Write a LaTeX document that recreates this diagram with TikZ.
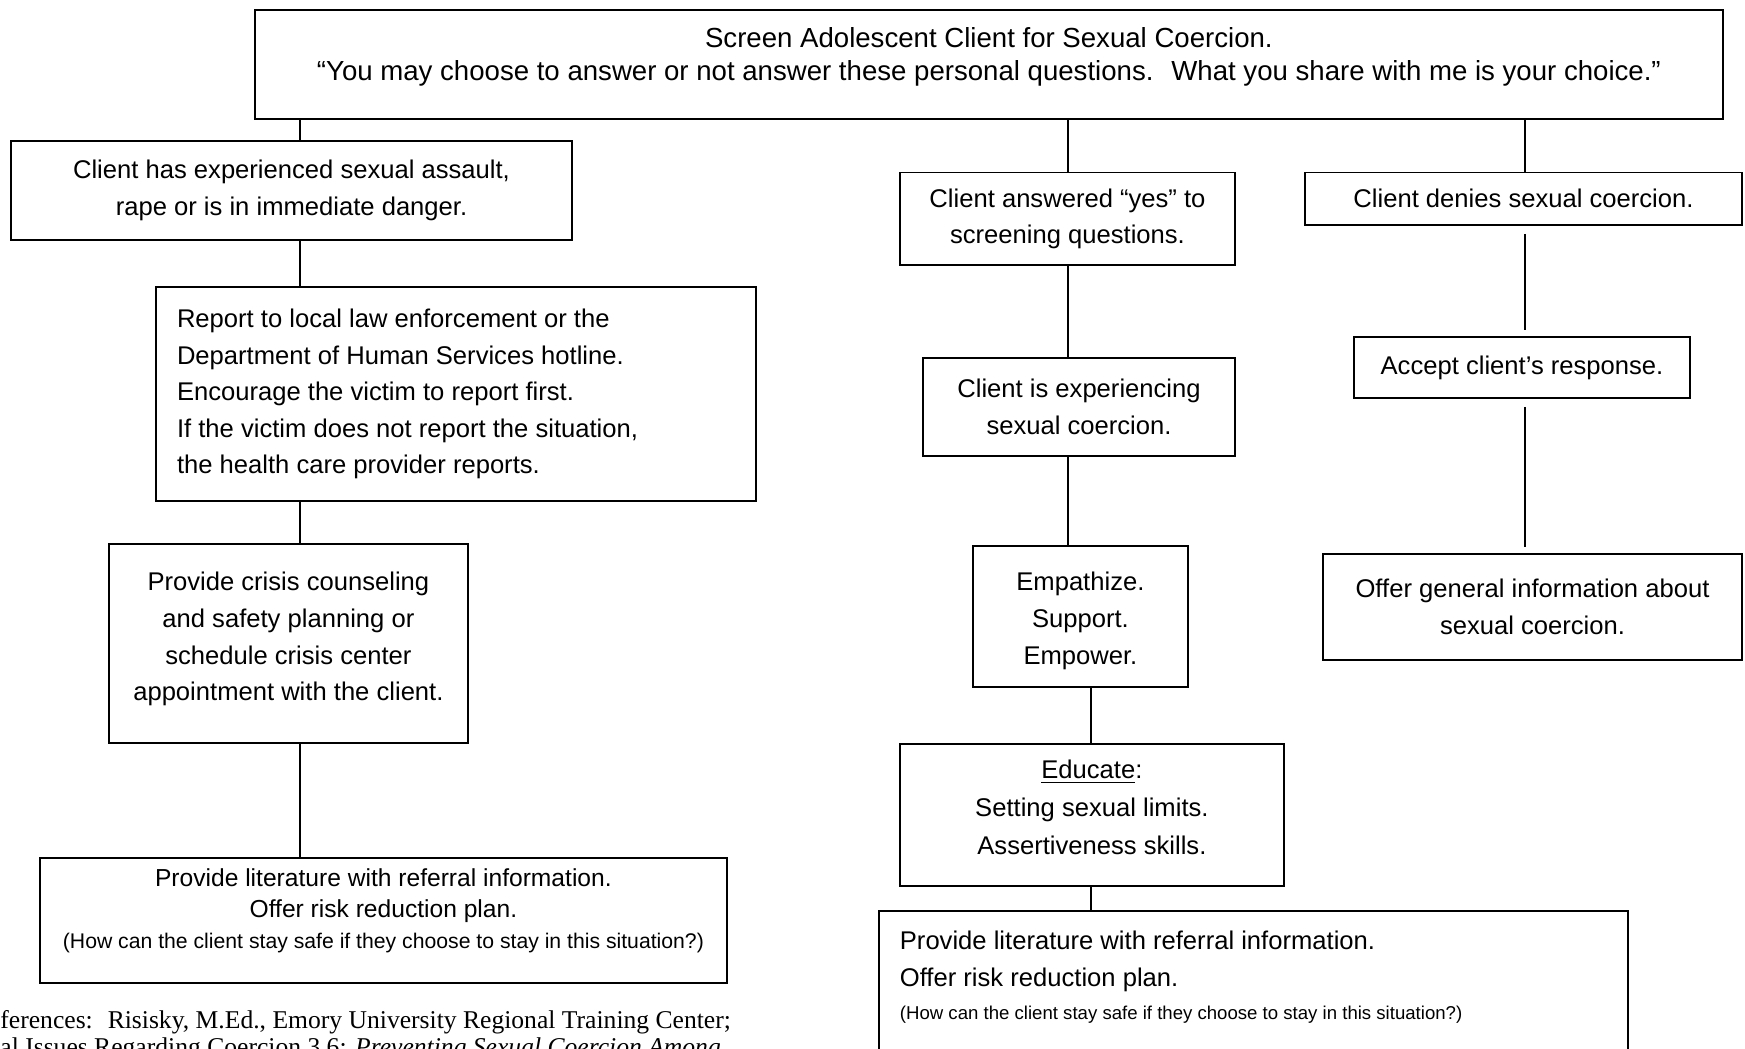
\documentclass[tikz,border=0pt]{standalone}
\usepackage{fontspec}
\setmainfont{Liberation Sans}
\newfontfamily\refserif{Liberation Serif}
\usetikzlibrary{positioning}
\newcommand{\asidefont}{\fontsize{10.6}{12}\selectfont}
\newcommand{\notefont}{\fontsize{9.3}{11}\selectfont}

\begin{document}
\begin{tikzpicture}[
  x=0.5pt, y=-0.5pt,
  font=\fontsize{12.8}{18.3}\selectfont,
  box/.style={draw, line width=.9pt, align=flush center, inner sep=0pt},
  padbox/.style={box, inner xsep=10.5pt, inner ysep=0pt},
  topbox/.style={box, anchor=north west},
  link/.style={draw, line width=.75pt},
  gap/.style={link, shorten <=4pt, shorten >=3pt},
  refline/.style={font=\refserif\fontsize{12.8}{14}\selectfont, anchor=base west, inner sep=0pt},
]
\useasboundingbox (0,0) rectangle (1745,1049);

% screening question
\node[topbox, text width=734pt, text height=18.75pt, text depth=35.75pt,
      font=\fontsize{13.8}{16.7}\selectfont] (screen) at (254,9)
  {Screen Adolescent Client for Sexual Coercion.\\
   “You may choose to answer or not answer these personal questions.~ What you share with me is your choice.”};

% left column
\node[box, minimum width=280.5pt, minimum height=49.5pt] (assault) at (291.5,190.5)
  {Client has experienced sexual assault,\\rape or is in immediate danger.};
\node[padbox, text width=279pt, align=flush left, minimum height=107pt] (report) at (456,394)
  {Report to local law enforcement or the\\
   Department of Human Services hotline.\\
   Encourage the victim to report first.\\
   If the victim does not report the situation,\\
   the health care provider reports.};
\node[topbox, text width=179.5pt, text height=23.5pt, text depth=76pt] (crisis) at (108,543)
  {Provide crisis counseling\\and safety planning or\\schedule crisis center\\appointment with the client.};
\node[padbox, anchor=north west, inner xsep=3pt, text width=337.5pt,
      text height=14.25pt, text depth=48.25pt, font=\fontsize{12.3}{15.5}\selectfont] (litleft) at (39,857)
  {Provide literature with referral information.\\
   Offer risk reduction plan.\\
   {\asidefont (How can the client stay safe if they choose to stay in this situation?)}};

% middle column
\node[box, minimum width=167.5pt, minimum height=46.25pt] (yes) at (1067.5,218.75)
  {Client answered “yes” to\\screening questions.};
\node[box, minimum width=156pt, minimum height=49pt] (coerced) at (1079,407)
  {Client is experiencing\\sexual coercion.};
\node[topbox, text width=107.5pt, text height=22.5pt, text depth=48pt] (empathize) at (972,545)
  {Empathize.\\Support.\\Empower.};
\node[topbox, text width=192pt, text height=17.5pt, text depth=53.5pt,
      font=\fontsize{12.8}{18.9}\selectfont] (educate) at (899,743)
  {\underline{Educate}:\\Setting sexual limits.\\Assertiveness skills.};
\node[padbox, anchor=north west, text width=353.5pt, align=flush left,
      text height=19.5pt, text depth=75.5pt] (litright) at (878,910)
  {Provide literature with referral information.\\
   Offer risk reduction plan.\\[-1.6pt]
   {\notefont (How can the client stay safe if they choose to stay in this situation?)}};

% right column
\node[box, minimum width=218.5pt, minimum height=26.25pt] (denies) at (1523.5,198.75)
  {Client denies sexual coercion.};
\node[box, minimum width=168pt, minimum height=30.5pt] (accept) at (1522,367.5)
  {Accept client’s response.};
\node[box, minimum width=209.5pt, minimum height=53pt] (general) at (1532.5,607)
  {Offer general information about\\sexual coercion.};

% connectors
\coordinate (leftx)  at (300,0);
\coordinate (midx)   at (1068,0);
\coordinate (lowx)   at (1091,0);
\coordinate (rightx) at (1525,0);

\draw[link] (leftx |- screen.south)  -- (leftx |- assault.north);
\draw[link] (leftx |- assault.south) -- (leftx |- report.north);
\draw[link] (leftx |- report.south)  -- (leftx |- crisis.north);
\draw[link] (leftx |- crisis.south)  -- (leftx |- litleft.north);

\draw[link] (midx |- screen.south)   -- (midx |- yes.north);
\draw[link] (midx |- yes.south)      -- (midx |- coerced.north);
\draw[link] (midx |- coerced.south)  -- (midx |- empathize.north);
\draw[link] (lowx |- empathize.south) -- (lowx |- educate.north);
\draw[link] (lowx |- educate.south)  -- (lowx |- litright.north);

\draw[link] (rightx |- screen.south) -- (rightx |- denies.north);
\draw[gap]  (rightx |- denies.south) -- (rightx |- accept.north);
\draw[gap]  (rightx |- accept.south) -- (rightx |- general.north);

% references, cut by the page edge
\node[refline] (refs) at (-28.4,1028)
  {References:~ Risisky, M.Ed., Emory University Regional Training Center;};
\node[refline] (refsmore) at (0,1055)
  {al Issues Regarding Coercion 3.6: \textit{Preventing Sexual Coercion Among}};
\end{tikzpicture}
\end{document}
